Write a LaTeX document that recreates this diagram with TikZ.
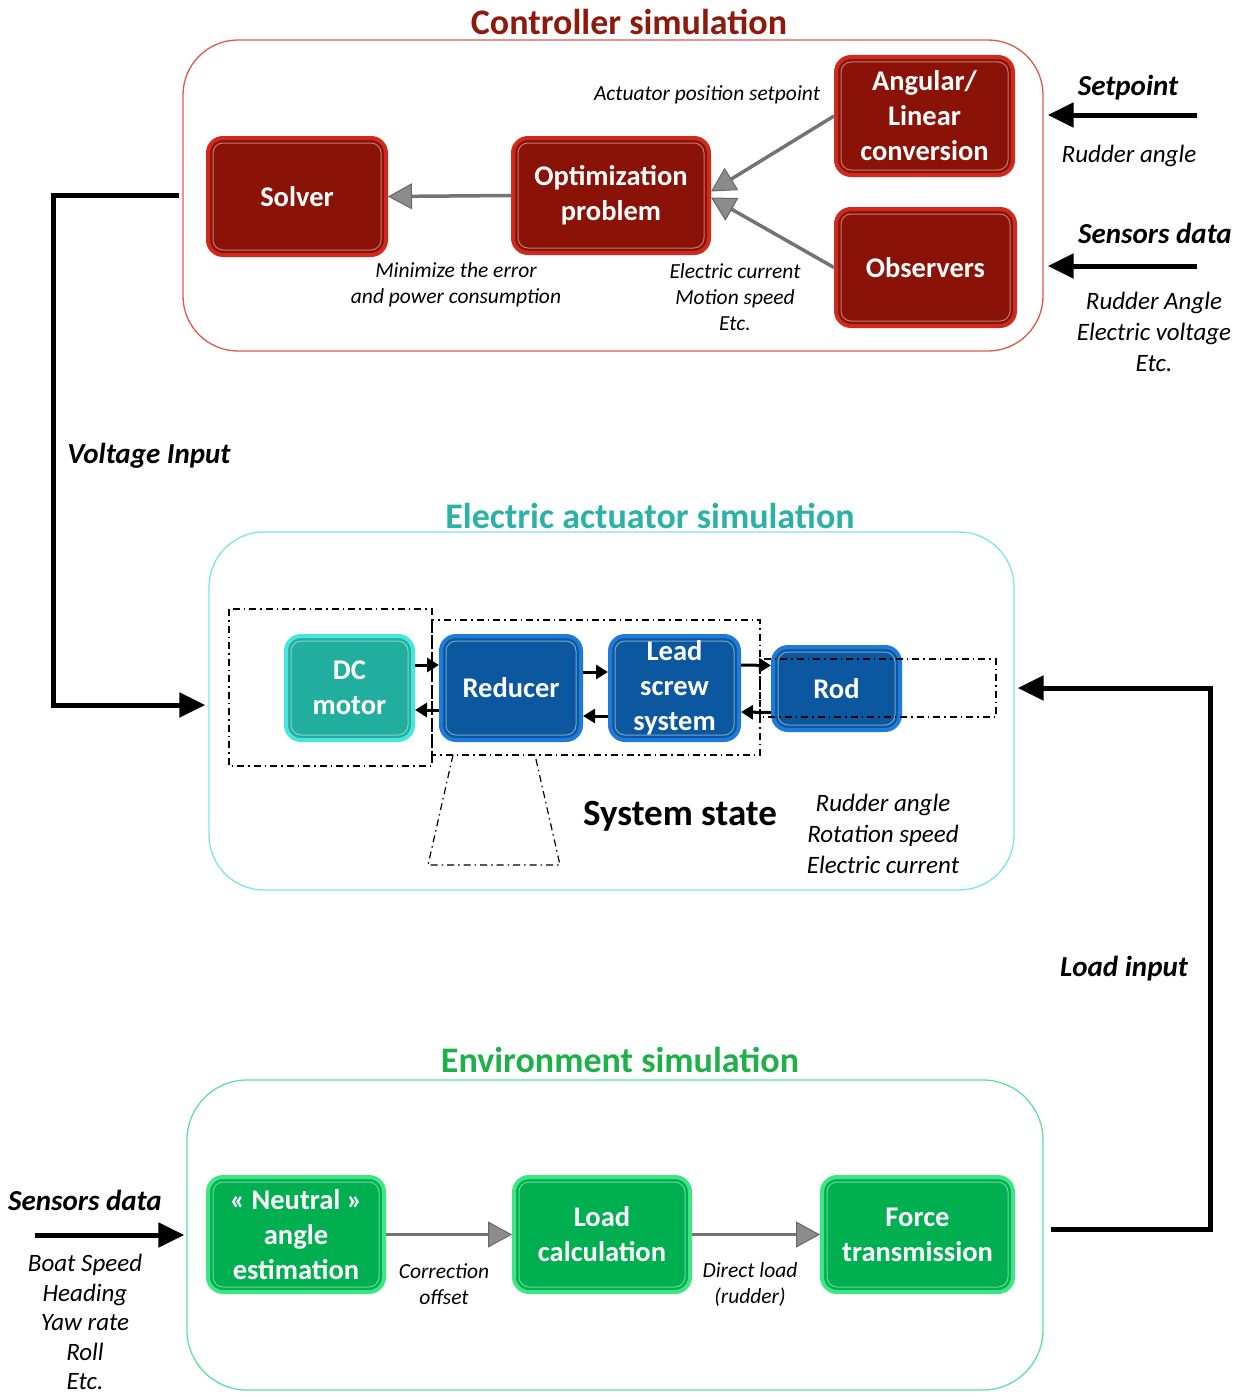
\documentclass[tikz,border=0pt]{standalone}
\usepackage{fontspec}
\setmainfont{Carlito}
\usetikzlibrary{arrows.meta,calc}
\definecolor{rfill}{HTML}{8B1206}
\definecolor{rbord}{HTML}{D02A1E}
\definecolor{rframe}{HTML}{E0574C}
\definecolor{rtitle}{HTML}{8E1A0C}
\definecolor{tfill}{HTML}{22AE9E}
\definecolor{tbord}{HTML}{44E6DE}
\definecolor{bfill}{HTML}{0B58A0}
\definecolor{bbord}{HTML}{1F7BDA}
\definecolor{cframe}{HTML}{7BE6E6}
\definecolor{ctitle}{HTML}{2AB2A6}
\definecolor{gfill}{HTML}{00AF4F}
\definecolor{gbord}{HTML}{3EE683}
\definecolor{gframe}{HTML}{5EE29A}
\definecolor{gtitle}{HTML}{1FB04A}
\tikzset{
  gloss/.style={path picture={\draw[white,opacity=.45,line width=1pt,rounded corners=10pt]
     ([shift={(5pt,-5pt)}]path picture bounding box.north west) rectangle
     ([shift={(-5pt,5pt)}]path picture bounding box.south east);}},
  blk/.style={rounded corners=15pt, line width=4pt, text=white, align=center,
     font=\fontsize{28.5}{35}\selectfont\bfseries, inner sep=0pt, gloss},
  redbox/.style={blk, fill=rfill, draw=rbord},
  tealbox/.style={blk, fill=tfill, draw=tbord},
  bluebox/.style={blk, fill=bfill, draw=bbord},
  greenbox/.style={blk, fill=gfill, draw=gbord},
  frame/.style={rounded corners=55pt, line width=1.3pt, inner sep=0pt},
  ttl/.style={font=\fontsize{36}{40}\selectfont\bfseries, inner sep=0pt},
  lbl/.style={font=\fontsize{21.5}{26}\selectfont\itshape, align=center, inner sep=0pt},
  lblb/.style={font=\fontsize{25}{31}\selectfont\itshape, align=center, inner sep=0pt},
  bigl/.style={font=\fontsize{29}{32}\selectfont\bfseries\itshape, inner sep=0pt},
  grayarr/.style={line width=3.5pt, draw=black!55, -{Triangle[length=24pt,width=26pt,fill=black!45,color=black!60,line width=1pt]}},
  blkarr/.style={line width=5pt, draw=black, -{Triangle[length=26pt,width=24pt]}},
  smallarr/.style={line width=3pt, draw=black, -{Triangle[length=12pt,width=14pt]}},
  dd/.style={dash pattern=on 7pt off 4pt on 1.5pt off 4pt, line width=1.2pt},
}
\begin{document}
\begin{tikzpicture}[x=1pt,y=-1pt]
\useasboundingbox (0,0) rectangle (1242,1397);
% ---------------- controller
\node[frame, draw=rframe, minimum width=860, minimum height=311] (ctrl) at (613,195.5) {};
\node[ttl, text=rtitle] (ctrlt) at (629,22) {Controller simulation};
\node[redbox, minimum width=178, minimum height=117] (solver) at (297,196.5) {Solver};
\node[redbox, minimum width=196, minimum height=115] (opt) at (611,195.5) {Optimization\\problem};
\node[redbox, minimum width=177, minimum height=118] (ang) at (924.5,116) {Angular/\\Linear\\conversion};
\node[redbox, minimum width=179, minimum height=117] (obs) at (925.5,267.5) {Observers};
\draw[grayarr] (opt.west) -- (solver.east);
\draw[grayarr] (ang.west) -- ([yshift=4pt]opt.east);
\draw[grayarr] (obs.west) -- ([yshift=-2pt]opt.east);
\node[lbl] (aps) at (707,95) {Actuator position setpoint};
\node[lbl] (mini) at (456,285) {Minimize the error\\and power consumption};
\node[lbl] (ecur) at (735,297) {Electric current\\Motion speed\\Etc.};
\node[bigl] (setp) at (1128,88) {Setpoint};
\coordinate (spsrc) at (1197,115);
\draw[blkarr, shorten >=4pt] (spsrc) -- (spsrc -| ctrl.east);
\node[lblb] (rang) at (1129,156) {Rudder angle};
\node[bigl] (sens1) at (1155,233) {Sensors data};
\coordinate (sdsrc) at (1197,266);
\draw[blkarr, shorten >=4pt] (sdsrc) -- (sdsrc -| ctrl.east);
\node[lblb] (sdl) at (1154,332) {Rudder Angle\\Electric voltage\\Etc.};
% ---------------- actuator
\node[frame, draw=cframe, minimum width=805, minimum height=358] (act) at (611.5,711) {};
\node[ttl, text=ctitle] (actt) at (650,516) {Electric actuator simulation};
\draw[dd] (229,609) rectangle (432,766);
\draw[dd] (432,620) rectangle (760,755);
\draw[dd] (453,755) -- (428,865) -- (560,865) -- (535,755);
\node[tealbox, minimum width=127, minimum height=104] (dc) at (349.5,688) {DC\\motor};
\node[bluebox, minimum width=140, minimum height=104] (red) at (511,688) {Reducer};
\node[bluebox, minimum width=129, minimum height=104] (lead) at (674.5,688) {Lead\\screw\\system};
\node[bluebox, minimum width=127, minimum height=83] (rod) at (836.5,688.5) {Rod};
\draw[dd] (760,659) rectangle (996,717);
\draw[smallarr] ([yshift=23pt]dc.east) -- ([yshift=23pt]red.west);
\draw[smallarr] ([yshift=-22pt]red.west) -- ([yshift=-22pt]dc.east);
\draw[smallarr] ([yshift=16pt]red.east) -- ([yshift=16pt]lead.west);
\draw[smallarr] ([yshift=-28pt]lead.west) -- ([yshift=-28pt]red.east);
\draw[smallarr] ([yshift=23pt]lead.east) -- ([yshift=23pt]rod.west);
\draw[smallarr] ([yshift=-24pt]rod.west) -- ([yshift=-24pt]lead.east);
\node[font=\fontsize{37}{40}\selectfont\bfseries, inner sep=0pt] (sst) at (680,816) {System state};
\node[lblb] (ssl) at (883,834) {Rudder angle\\Rotation speed\\Electric current};
% ---------------- environment
\node[frame, draw=gframe, minimum width=856, minimum height=310, rounded corners=60pt] (env) at (615,1235) {};
\node[ttl, text=gtitle] (envt) at (620,1060) {Environment simulation};
\node[greenbox, minimum width=176, minimum height=115] (neu) at (296,1234.5) {« Neutral »\\angle\\estimation};
\node[greenbox, minimum width=176, minimum height=115] (load) at (602,1234.5) {Load\\calculation};
\node[greenbox, minimum width=191, minimum height=115] (force) at (917.5,1234.5) {Force\\transmission};
\draw[grayarr] (neu.east) -- (load.west);
\draw[grayarr] (load.east) -- (force.west);
\node[lbl] (corr) at (444,1284) {Correction\\offset};
\node[lbl] (dl) at (750,1284) {Direct load\\(rudder)};
\node[bigl] (sens2) at (85,1200) {Sensors data};
\coordinate (ssrc) at (35,1235);
\draw[blkarr, shorten >=2pt] (ssrc) -- (env.west);
\node[lblb, font=\fontsize{25}{29.5}\selectfont\itshape] (bsl) at (85,1322) {Boat Speed\\Heading\\Yaw rate\\Roll\\Etc.};
% ---------------- feedback lines
\draw[blkarr, shorten <=3pt, shorten >=3pt, line join=miter] (ctrl.west) -- ++(-129,0) |- ([yshift=6pt]act.west);
\node[bigl] (vin) at (149,456) {Voltage Input};
\draw[blkarr, shorten <=7pt, shorten >=3pt, line join=miter] ([yshift=6pt]env.east) -- ++(167,0) |- ([yshift=23pt]act.east);
\node[bigl] (lin) at (1124,969) {Load input};
\end{tikzpicture}
\end{document}
